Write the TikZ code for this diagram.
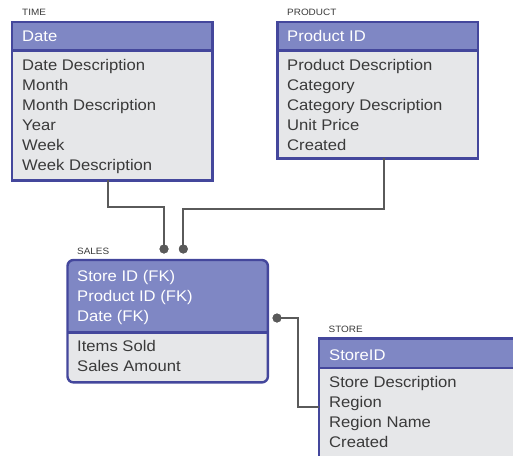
\documentclass[tikz,border=0pt]{standalone}
\usepackage{fontspec}
\setmainfont{Liberation Sans}[FakeStretch=1.08]
\usetikzlibrary{calc}

\definecolor{edgeblue}{HTML}{44479C}
\definecolor{headfill}{HTML}{7F87C4}
\definecolor{bodyfill}{HTML}{E6E7E9}
\definecolor{ink}{HTML}{3A3A3A}
\definecolor{wiregray}{HTML}{5A5A5A}

\tikzset{
  boxbody/.style={rectangle, fill=bodyfill, inner sep=0pt, minimum width=200pt, anchor=north west},
  border/.style={draw=edgeblue, line width=2.4pt},
  fld/.style={font=\fontsize{15.4}{20}\selectfont, text=ink, inner sep=0pt, anchor=base west},
  hfld/.style={fld, text=white},
  tag/.style={font=\fontsize{9.2}{10}\selectfont, text=ink, inner sep=0pt, anchor=base west},
  wire/.style={draw=wiregray, line width=2pt},
  dot/.style={circle, fill=wiregray, inner sep=0pt, minimum size=9pt},
}

\begin{document}
\begin{tikzpicture}[x=1pt,y=1pt]
\useasboundingbox (0,0) rectangle (513,-455);
\clip (0,0) rectangle (513,-455);

% ---------- TIME ----------
\node[tag] (timetag) at (22,-15.3) {TIME};
\node[boxbody, minimum height=158pt] (time) at (12,-22) {};
\fill[headfill] (time.north west) rectangle (time.east |- 0,-50.5);
\draw[border] (time.west |- 0,-50.5) -- (time.east |- 0,-50.5);
\draw[border] (time.north west) rectangle (time.south east);
\node[hfld] (timeh) at (22,-41.7) {Date};
\foreach \t [count=\i] in {Date Description, Month, Month Description, Year, Week, Week Description}
  \node[fld] (timef\i) at (22,-70-20*\i+20) {\t};

% ---------- PRODUCT ----------
\node[tag] (prodtag) at (287,-15.3) {PRODUCT};
\node[boxbody, minimum height=136pt] (product) at (277.5,-22) {};
\fill[headfill] (product.north west) rectangle (product.east |- 0,-50.5);
\draw[border] (product.west |- 0,-50.5) -- (product.east |- 0,-50.5);
\draw[border] (product.north west) rectangle (product.south east);
\node[hfld] (prodh) at (287,-41.7) {Product ID};
\foreach \t [count=\i] in {Product Description, Category, Category Description, Unit Price, Created}
  \node[fld] (prodf\i) at (287,-70-20*\i+20) {\t};

% ---------- SALES ----------
\node[tag] (salestag) at (77,-254) {SALES};
\node[boxbody, rounded corners=6pt, minimum height=122pt] (sales) at (67.5,-260) {};
\begin{scope}
  \clip[rounded corners=6pt] (sales.north west) rectangle (sales.south east);
  \fill[headfill] (sales.north west) rectangle (sales.east |- 0,-332.3);
\end{scope}
\draw[border] (sales.west |- 0,-332.3) -- (sales.east |- 0,-332.3);
\draw[border, rounded corners=6pt] (sales.north west) rectangle (sales.south east);
\foreach \t [count=\i] in {Store ID (FK), Product ID (FK), Date (FK)}
  \node[hfld] (salesk\i) at (77,-281-20*\i+20) {\t};
\foreach \t [count=\i] in {Items Sold, Sales Amount}
  \node[fld] (salesf\i) at (77,-351.7-20*\i+20) {\t};

% ---------- STORE ----------
\node[tag] (storetag) at (328.5,-332.7) {STORE};
\node[boxbody, minimum height=132pt] (store) at (319,-338.3) {};
\fill[headfill] (store.north west) rectangle (store.east |- 0,-368);
\draw[border] (store.west |- 0,-368) -- (store.east |- 0,-368);
\draw[border] (store.north west) rectangle (store.south east);
\node[hfld] (storeh) at (329,-360) {StoreID};
\foreach \t [count=\i] in {Store Description, Region, Region Name, Created}
  \node[fld] (storef\i) at (329,-387.3-20*\i+20) {\t};

% ---------- connectors ----------
\node[dot] (dtime) at (164,-249) {};
\node[dot] (dprod) at (183.3,-249) {};
\node[dot] (dstore) at (277,-318) {};
\coordinate (tj) at (108.3,-207);
\coordinate (pj) at (384,-209);
\coordinate (sj) at (298,-407);
\draw[wire] (time.south -| tj) -- (tj) -| (dtime.center);
\draw[wire] (product.south -| pj) -- (pj) -| (dprod.center);
\draw[wire] (dstore.center) -| (sj) -- (sj -| store.west);
\node[dot] at (dtime) {};
\node[dot] at (dprod) {};
\node[dot] at (dstore) {};
\end{tikzpicture}
\end{document}
